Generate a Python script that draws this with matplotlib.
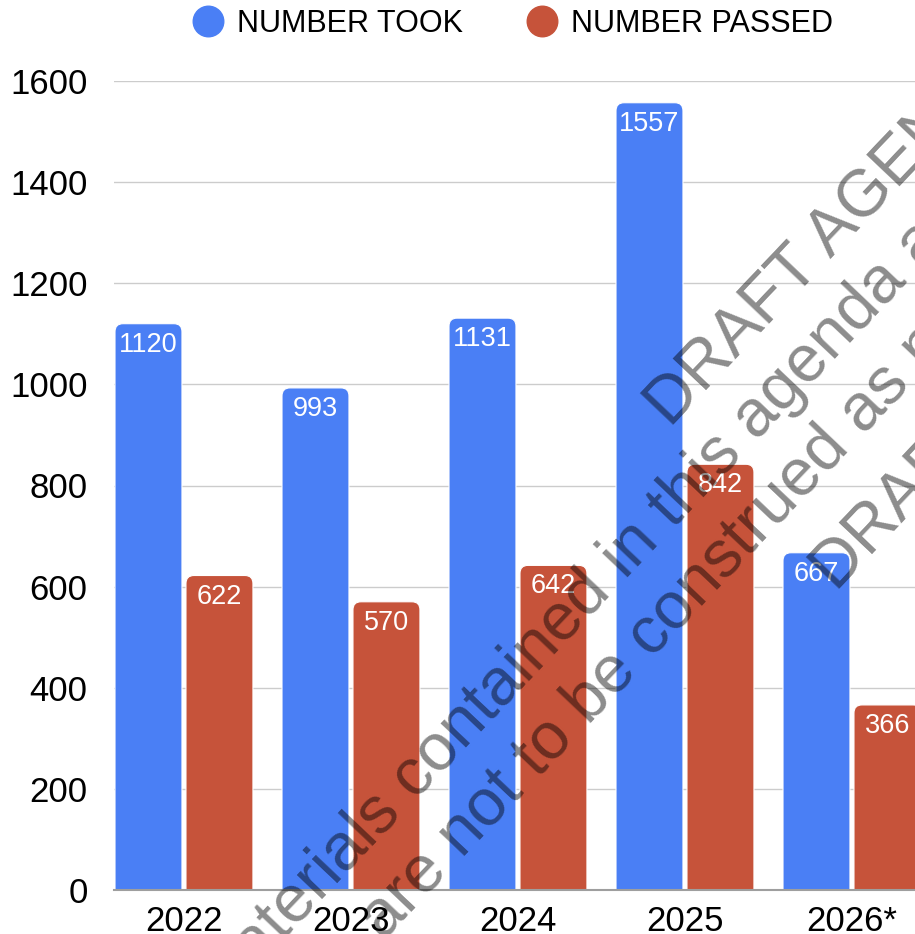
import matplotlib
matplotlib.use("Agg")
import matplotlib.pyplot as plt
from matplotlib.patches import FancyBboxPatch
from matplotlib.lines import Line2D
import numpy as np

# данные с графика
years = ['2022', '2023', '2024', '2025', '2026*']
took = [1120, 993, 1131, 1557, 667]
passed = [622, 570, 642, 842, 366]
series_names = ['NUMBER TOOK', 'NUMBER PASSED']
y_ticks = [0, 200, 400, 600, 800, 1000, 1200, 1400, 1600]

# водяной знак: (текст, начало строки в пикселях)
watermark = [
    ('DRAFT AGENDA', (671, 429)),
    ('materials contained in this agenda are', (219, 1008)),
    ('are not to be construed as necessarily final', (384, 941)),
    ('DRAFT AGENDA', (837, 593)),
]

BLUE = '#4a7ff5'
RED = '#c6533a'
W, H = 915, 934

plt.rcParams['font.family'] = ['Liberation Sans', 'DejaVu Sans']

fig = plt.figure(figsize=(W / 100, H / 100), dpi=100)
# ось шире фигуры — правая часть обрезана, как на оригинале
ax = fig.add_axes([114 / W, 44 / H, 850 / W, 809 / H])

x = np.arange(len(years))
width = 0.401
off = 0.2125
ax.set_xlim(-0.419, -0.419 + 850 / 167)
ax.set_ylim(0, 1600)

rx = 8 / 167          # радиус скругления по x (данные)
ry = 8 / (809 / 1600)  # радиус скругления по y (данные)


def rounded_bars(xs, vals, color):
    bars = ax.bar(xs, vals, width, color=color)
    for b in bars:
        bx, by = b.get_x(), b.get_y()
        bw, bh = b.get_width(), b.get_height()
        p = FancyBboxPatch((bx, by - 2 * ry), bw, bh + 2 * ry,
                           boxstyle=f'round,pad=0,rounding_size={rx}',
                           mutation_aspect=ry / rx,
                           facecolor=color, edgecolor='white', linewidth=0.8,
                           zorder=2)
        ax.add_patch(p)
        b.set_visible(False)
        ax.annotate(f'{int(bh)}', (b.get_x() + bw / 2, bh),
                    xytext=(0, -8), textcoords='offset pixels',
                    ha='center', va='top', color='white', fontsize=19.5, zorder=3)
    return bars


rounded_bars(x - off, took, BLUE)
rounded_bars(x + off, passed, RED)

# оформление осей
ax.set_yticks(y_ticks)
ax.set_xticks(x)
ax.set_xticklabels(years)
ax.tick_params(axis='both', length=0, labelsize=25)
ax.tick_params(axis='y', pad=19)
ax.tick_params(axis='x', pad=11)
ax.grid(axis='y', color='#cccccc', linewidth=1)
ax.set_axisbelow(True)
for s in ['top', 'right', 'left']:
    ax.spines[s].set_visible(False)
ax.spines['bottom'].set_color('#9e9e9e')
ax.spines['bottom'].set_linewidth(1.5)
ax.spines['bottom'].set_zorder(4)

# легенда сверху
handles = [Line2D([], [], marker='o', linestyle='', markersize=22, color=c)
           for c in (BLUE, RED)]
fig.legend(handles, series_names, loc='center', bbox_to_anchor=(513 / W, 1 - 24 / H),
           ncol=2, frameon=False, fontsize=22, handlelength=1.0,
           handletextpad=0.45, columnspacing=2.1, borderaxespad=0)

# водяной знак
for text, (px, py) in watermark:
    fig.text(px / W, 1 - py / H, text, rotation=46.5, rotation_mode='anchor',
             ha='left', va='baseline', fontsize=47.5, color='black', alpha=0.45,
             zorder=10)

fig.savefig('out.png', dpi=100)
